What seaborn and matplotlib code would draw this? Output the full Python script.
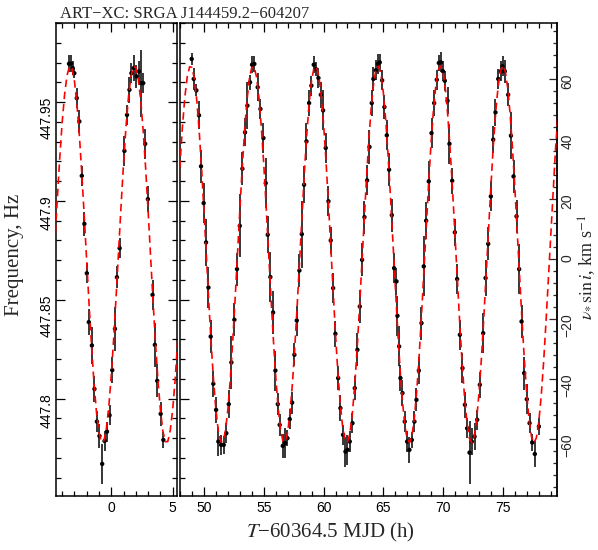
import numpy as np
import matplotlib
matplotlib.use("Agg")
import matplotlib.pyplot as plt
import seaborn as sns
from matplotlib.ticker import MultipleLocator, FuncFormatter

# ---------------- data ----------------
title_text = "ART\u2212XC: SRGA J144459.2\u2212604207"

left_t = [-3.44, -3.28, -3.14, -3.01, -2.81, -2.60, -2.40, -2.19, -1.99, -1.83,
          -1.58, -1.37, -1.17, -0.96, -0.74, -0.55, -0.35, -0.14, 0.08, 0.30,
          0.46, 0.68, 1.07, 1.28, 1.48, 1.64, 1.83, 2.05, 2.24, 2.38,
          2.60, 2.76, 2.98, 3.36, 3.55, 3.74, 4.02, 4.24]
left_f = [447.9694, 447.9694, 447.9672, 447.9646, 447.9520, 447.9402, 447.9127, 447.8884, 447.8634, 447.8387,
          447.8269, 447.8049, 447.7884, 447.7811, 447.7670, 447.7786, 447.7833, 447.7916, 447.8144, 447.8353,
          447.8614, 447.8761, 447.9253, 447.9435, 447.9562, 447.9646, 447.9672, 447.9630, 447.9655, 447.9596,
          447.9596, 447.9289, 447.9009, 447.8525, 447.8272, 447.8090, 447.7923, 447.7791]
left_err = [0.0042, 0.0042, 0.0034, 0.0025, 0.0051, 0.0059, 0.0051, 0.0059, 0.0051, 0.0067,
            0.0093, 0.0067, 0.0051, 0.0059, 0.0101, 0.0051, 0.0051, 0.0051, 0.0067, 0.0110,
            0.0056, 0.0051, 0.0076, 0.0051, 0.0067, 0.0051, 0.0067, 0.0059, 0.0051, 0.0169,
            0.0051, 0.0076, 0.0067, 0.0076, 0.0110, 0.0084, 0.0059, 0.0042]

right_t = [48.97, 49.14, 49.36, 49.58, 49.75, 49.97, 50.17, 50.37, 50.56, 50.78,
           51.01, 51.20, 51.43, 51.65, 51.87, 52.07, 52.29, 52.54, 52.76, 52.99,
           53.21, 53.43, 53.63, 53.85, 54.02, 54.21, 54.49, 54.72, 54.97, 55.16,
           55.33, 55.55, 55.78, 55.97, 56.17, 56.33, 56.59, 56.78, 56.98, 57.17,
           57.37, 57.56, 57.76, 57.98, 58.18, 58.37, 58.57,
           58.79, 58.98, 59.18, 59.35, 59.57, 59.77, 59.96, 60.18, 60.41, 60.60,
           60.80, 60.99, 61.22, 61.41, 61.63, 61.83, 62.00, 62.19, 62.42, 62.61,
           62.83, 63.03, 63.22, 63.42, 63.64, 63.84, 64.03, 64.17, 64.37, 64.54,
           64.70, 64.90, 65.09, 65.29, 65.48, 65.71, 65.90, 66.10, 66.18, 66.32,
           66.43, 66.60, 66.79, 66.99, 67.18, 67.38, 67.60, 67.77, 67.97, 68.19,
           68.38, 68.58, 68.80,
           69.03, 69.25, 69.47, 69.64, 69.81, 69.98, 70.14, 70.37, 70.53, 70.76,
           70.98, 71.17, 71.40, 71.62, 71.82, 72.01, 72.21, 72.40, 72.63, 72.85,
           73.07, 73.35, 73.55, 73.77, 73.99, 74.19, 74.38, 74.61, 74.83, 74.97,
           75.16, 75.44, 75.67, 75.89, 76.14, 76.36, 76.56, 76.78, 77.00, 77.23,
           77.45, 77.67, 78.01]
right_f = [447.9718, 447.9617, 447.9559, 447.9433, 447.9175, 447.8989, 447.8790, 447.8562, 447.8314, 447.8075,
           447.7943, 447.7783, 447.7766, 447.7766, 447.7825, 447.7972, 447.8183, 447.8399, 447.8655, 447.8874,
           447.9163, 447.9347, 447.9482, 447.9600, 447.9689, 447.9693, 447.9575, 447.9465, 447.9318, 447.9090,
           447.8829, 447.8615, 447.8436, 447.8142, 447.7972, 447.7867, 447.7761, 447.7775, 447.7800, 447.7896,
           447.7980, 447.8222, 447.8395, 447.8648, 447.8832, 447.9082, 447.9301,
           447.9495, 447.9583, 447.9689, 447.9667, 447.9622, 447.9537, 447.9458, 447.9268, 447.8998, 447.8800,
           447.8559, 447.8328, 447.8104, 447.7952, 447.7817, 447.7732, 447.7741, 447.7783, 447.7876, 447.8053,
           447.8247, 447.8466, 447.8702, 447.8918, 447.9104, 447.9273, 447.9495, 447.9617, 447.9661, 447.9693,
           447.9701, 447.9610, 447.9475, 447.9332, 447.9158, 447.8928, 447.8660, 447.8593, 447.8419, 447.8264,
           447.8104, 447.8028, 447.7884, 447.7783, 447.7741, 447.7791, 447.7884, 447.7994, 447.8142, 447.8382,
           447.8669, 447.8900, 447.9099,
           447.9343, 447.9495, 447.9613, 447.9698, 447.9701, 447.9656, 447.9608, 447.9507, 447.9289, 447.9102,
           447.8841, 447.8605, 447.8323, 447.8154, 447.7969, 447.7850, 447.7727, 447.7783, 447.7808, 447.7893,
           447.8070, 447.8331, 447.8610, 447.8783, 447.9023, 447.9310, 447.9448, 447.9617, 447.9656, 447.9681,
           447.9656, 447.9537, 447.9330, 447.9124, 447.8922, 447.8655, 447.8390, 447.8129, 447.7997, 447.7876,
           447.7778, 447.7720, 447.7859]
right_err = [0.0029, 0.0054, 0.0030, 0.0071, 0.0084, 0.0101, 0.0118, 0.0105, 0.0084, 0.0067,
             0.0067, 0.0071, 0.0051, 0.0047, 0.0051, 0.0071, 0.0135, 0.0084, 0.0084, 0.0160,
             0.0084, 0.0071, 0.0118, 0.0037, 0.0042, 0.0042, 0.0071, 0.0051, 0.0076, 0.0127,
             0.0093, 0.0127, 0.0110, 0.0101, 0.0056, 0.0056, 0.0059, 0.0076, 0.0042, 0.0051,
             0.0056, 0.0059, 0.0076, 0.0084, 0.0169, 0.0093, 0.0093,
             0.0067, 0.0051, 0.0042, 0.0034, 0.0051, 0.0067, 0.0101, 0.0076, 0.0076, 0.0067,
             0.0076, 0.0067, 0.0059, 0.0067, 0.0051, 0.0076, 0.0076, 0.0051, 0.0051, 0.0059,
             0.0084, 0.0084, 0.0084, 0.0084, 0.0076, 0.0084, 0.0067, 0.0059, 0.0051, 0.0051,
             0.0042, 0.0051, 0.0059, 0.0076, 0.0084, 0.0084, 0.0076, 0.0067, 0.0101, 0.0101,
             0.0067, 0.0067, 0.0051, 0.0051, 0.0067, 0.0042, 0.0051, 0.0059, 0.0067, 0.0084,
             0.0152, 0.0093, 0.0101,
             0.0076, 0.0067, 0.0051, 0.0042, 0.0051, 0.0051, 0.0051, 0.0067, 0.0101, 0.0067,
             0.0067, 0.0076, 0.0076, 0.0076, 0.0067, 0.0051, 0.0160, 0.0067, 0.0067, 0.0051,
             0.0067, 0.0101, 0.0093, 0.0084, 0.0076, 0.0067, 0.0067, 0.0051, 0.0051, 0.0051,
             0.0059, 0.0059, 0.0118, 0.0084, 0.0084, 0.0127, 0.0084, 0.0084, 0.0076, 0.0051,
             0.0042, 0.0067, 0.0042]

# red dashed model curve, sampled every 0.2 h (left: -4.6 ... 5.4, right: 47.8 ... 79.6)
modL_t0, modR_t0, mod_step = -4.6, 47.8, 0.2
modL_f = [447.8778, 447.9003, 447.9213, 447.9395, 447.9539, 447.9636, 447.9681, 447.9671, 447.9607, 447.9492,
          447.9334, 447.9140, 447.8923, 447.8695, 447.8469, 447.8258, 447.8074, 447.7928, 447.7828, 447.7780,
          447.7787, 447.7848, 447.7960, 447.8117, 447.8308, 447.8524, 447.8752, 447.8979, 447.9191, 447.9377,
          447.9525, 447.9628, 447.9679, 447.9675, 447.9617, 447.9507, 447.9353, 447.9163, 447.8948, 447.8720,
          447.8493, 447.8280, 447.8092, 447.7942, 447.7836, 447.7782, 447.7783, 447.7839, 447.7945, 447.8097,
          447.8286]
modR_f = [447.8981, 447.9193, 447.9379, 447.9527, 447.9629, 447.9679, 447.9675, 447.9616, 447.9506, 447.9351,
          447.9161, 447.8946, 447.8718, 447.8491, 447.8278, 447.8091, 447.7940, 447.7835, 447.7782, 447.7784,
          447.7840, 447.7947, 447.8099, 447.8288, 447.8502, 447.8729, 447.8957, 447.9171, 447.9360, 447.9513,
          447.9620, 447.9676, 447.9678, 447.9625, 447.9520, 447.9370, 447.9183, 447.8970, 447.8743, 447.8515,
          447.8300, 447.8110, 447.7955, 447.7845, 447.7785, 447.7781, 447.7831, 447.7933, 447.8080, 447.8266,
          447.8478, 447.8704, 447.8932, 447.9149, 447.9341, 447.9498, 447.9611, 447.9673, 447.9680, 447.9633,
          447.9534, 447.9389, 447.9205, 447.8995, 447.8768, 447.8540, 447.8323, 447.8129, 447.7970, 447.7854,
          447.7789, 447.7779, 447.7823, 447.7919, 447.8062, 447.8244, 447.8453, 447.8679, 447.8907, 447.9126,
          447.9321, 447.9483, 447.9601, 447.9669, 447.9682, 447.9641, 447.9548, 447.9407, 447.9227, 447.9019,
          447.8794, 447.8565, 447.8346, 447.8149, 447.7985, 447.7865, 447.7794, 447.7777, 447.7815, 447.7906,
          447.8044, 447.8222, 447.8429, 447.8654, 447.8883, 447.9103, 447.9301, 447.9467, 447.9590, 447.9664,
          447.9683, 447.9648, 447.9560, 447.9424, 447.9248, 447.9043, 447.8819, 447.8590, 447.8369, 447.8169,
          447.8001, 447.7876, 447.7799, 447.7776, 447.7808, 447.7894, 447.8027, 447.8201, 447.8405, 447.8629,
          447.8858, 447.9079, 447.9281, 447.9451, 447.9579, 447.9658, 447.9684, 447.9655, 447.9572, 447.9441,
          447.9269, 447.9066, 447.8844, 447.8615, 447.8393, 447.8190, 447.8018, 447.7887, 447.7805, 447.7776,
          447.7802, 447.7882, 447.8010, 447.8180, 447.8382, 447.8604, 447.8833, 447.9056, 447.9260, 447.9434]
modL_t = [round(modL_t0 + i * mod_step, 2) for i in range(len(modL_f))]
modR_t = [round(modR_t0 + i * mod_step, 2) for i in range(len(modR_f))]

# right-hand axis: velocity corresponding to frequency
f_zero = 447.8705
kms_per_hz = 659.0

# ---------------- figure ----------------
sns.set_theme(style="ticks")
plt.rcParams['font.family'] = ['Liberation Serif', 'DejaVu Serif']
plt.rcParams['mathtext.fontset'] = 'stix'

W, H = 598, 550
fig = plt.figure(figsize=(W / 100, H / 100), dpi=100)

def rect(x0, x1, ytop, ybot):
    return [x0 / W, 1 - ybot / H, (x1 - x0) / W, (ybot - ytop) / H]

axL = fig.add_axes(rect(56, 177, 23, 495.5))
axR = fig.add_axes(rect(179.5, 556.7, 23, 495.5))

for ax, t, f, e, mt, mf in [(axL, left_t, left_f, left_err, modL_t, modL_f),
                             (axR, right_t, right_f, right_err, modR_t, modR_f)]:
    ax.errorbar(t, f, yerr=e, fmt='none', ecolor='black', elinewidth=1.1,
                capsize=0, zorder=2)
    sns.scatterplot(x=t, y=f, ax=ax, color='black', s=10, edgecolor='none',
                    zorder=3, legend=False)
    sns.lineplot(x=mt, y=mf, ax=ax, color='#ff0000', linewidth=1.2,
                 linestyle=(0, (4.5, 2.8)), zorder=4, legend=False)
    ax.set_ylim(447.751, 447.990)
    ax.xaxis.set_major_locator(MultipleLocator(5))
    ax.xaxis.set_minor_locator(MultipleLocator(1))
    ax.yaxis.set_major_locator(MultipleLocator(0.05))
    ax.yaxis.set_minor_locator(MultipleLocator(0.01))
    ax.set_xlabel('')
    ax.set_ylabel('')
    for s in ax.spines.values():
        s.set_linewidth(1.1)
        s.set_color('black')
    ax.tick_params(which='both', direction='in', width=0.9, colors='black',
                   top=True, bottom=True, labelsize=10,
                   labelfontfamily='Liberation Sans')
    ax.tick_params(which='major', length=6.3)
    ax.tick_params(which='minor', length=3.4)
    ax.tick_params(axis='x', pad=4)

axL.set_xlim(-4.5, 5.35)
axR.set_xlim(47.95, 79.5)
axL.tick_params(axis='y', which='both', left=True, right=True, labelrotation=90, pad=2)
axR.tick_params(axis='y', which='both', left=True, right=False, labelleft=False)
axL.yaxis.set_major_formatter(FuncFormatter(lambda v, p: f"{v:g}"))
axL.xaxis.set_major_formatter(FuncFormatter(lambda v, p: f"{v:g}"))
axR.xaxis.set_major_formatter(FuncFormatter(lambda v, p: f"{v:g}"))

sec = axR.secondary_yaxis('right',
                          functions=(lambda f: (f - f_zero) * kms_per_hz,
                                     lambda v: v / kms_per_hz + f_zero))
sec.yaxis.set_major_locator(MultipleLocator(20))
sec.yaxis.set_minor_locator(MultipleLocator(4))
sec.yaxis.set_major_formatter(FuncFormatter(
    lambda v, p: str(int(round(v))).replace('-', '\u2212')))
sec.spines['right'].set_linewidth(1.1)
sec.tick_params(which='both', direction='in', width=0.9, labelsize=10,
                labelrotation=90, labelfontfamily='Liberation Sans', pad=2.5)
sec.tick_params(which='major', length=6.0)
sec.tick_params(which='minor', length=3.0)

fig.text(60 / W, 1 - 18.3 / H, title_text, ha='left', va='baseline', fontsize=12)
fig.text(330 / W, 1 - 532 / H, r"$T$" + "\u221260364.5 MJD (h)", ha='center',
         va='center', fontsize=15)
fig.text(15 / W, 1 - 255 / H, "Frequency, Hz", ha='center', va='center',
         rotation=90, fontsize=15)
fig.text(587 / W, 1 - 267 / H, r"$\nu_{*}\,\sin i$, km s$^{-1}$", ha='center',
         va='center', rotation=90, fontsize=13)

fig.savefig("out.png", dpi=100)
